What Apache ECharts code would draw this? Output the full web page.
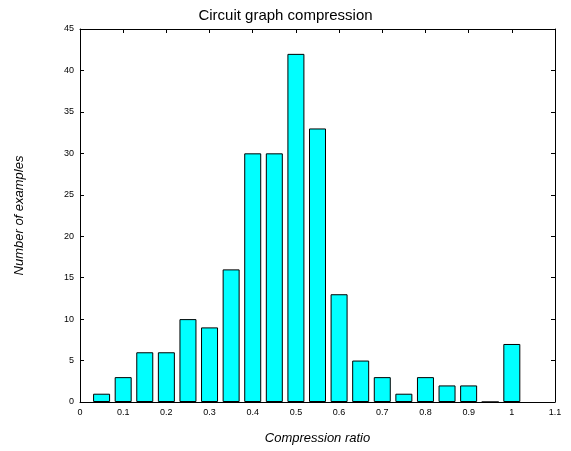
<!DOCTYPE html>
<html>
<head>
<meta charset="utf-8">
<script src="https://cdn.jsdelivr.net/npm/echarts@6/dist/echarts.min.js"></script>
<style>
  html, body { margin: 0; padding: 0; background: #fff; }
  #chart { width: 571px; height: 451px; }
</style>
</head>
<body>
<div id="chart"></div>
<script>
  // bin centres and counts
  const ratios = [0.05, 0.1, 0.15, 0.2, 0.25, 0.3, 0.35, 0.4, 0.45, 0.5,
                  0.55, 0.6, 0.65, 0.7, 0.75, 0.8, 0.85, 0.9, 0.95, 1.0]
  const counts = [1, 3, 6, 6, 10, 9, 16, 30, 30, 42,
                  33, 13, 5, 3, 1, 3, 2, 2, 0, 7]

  const font = 'Liberation Sans, Arial, sans-serif'
  const fmt = v => String(parseFloat(v.toFixed(2)))

  const chart = echarts.init(document.getElementById('chart'))

  const xBase = {
    type: 'value', min: 0, max: 1.1, interval: 0.1,
    splitLine: { show: false },
    axisLine: { show: true, onZero: false, lineStyle: { color: '#000', width: 1 } },
    axisTick: { show: true, inside: true, length: 4, lineStyle: { color: '#000' } }
  }
  const yBase = {
    type: 'value', min: 0, max: 45, interval: 5,
    splitLine: { show: false },
    axisLine: { show: true, onZero: false, lineStyle: { color: '#000', width: 1 } },
    axisTick: { show: true, inside: true, length: 4, lineStyle: { color: '#000' } }
  }

  chart.setOption({
    animation: false,
    backgroundColor: '#fff',
    title: {
      text: 'Circuit graph compression',
      left: 'center',
      top: 3,
      textStyle: { fontFamily: font, fontSize: 15, fontWeight: 'normal', color: '#000' }
    },
    grid: { left: 80, right: 16, top: 29, bottom: 49 },
    xAxis: [
      Object.assign({}, xBase, {
        position: 'bottom',
        name: 'Compression ratio',
        nameLocation: 'middle',
        nameGap: 30,
        nameTextStyle: { fontFamily: font, fontSize: 13, fontStyle: 'italic', color: '#000' },
        axisLabel: { fontFamily: font, fontSize: 9, color: '#000', margin: 6, formatter: fmt }
      }),
      Object.assign({}, xBase, { position: 'top', axisLabel: { show: false } })
    ],
    yAxis: [
      Object.assign({}, yBase, {
        position: 'left',
        name: 'Number of examples',
        nameLocation: 'middle',
        nameGap: 54,
        nameTextStyle: { fontFamily: font, fontSize: 13, fontStyle: 'italic', color: '#000' },
        axisLabel: { fontFamily: font, fontSize: 9, color: '#000', margin: 6 }
      }),
      Object.assign({}, yBase, { position: 'right', axisLabel: { show: false } })
    ],
    series: [{
      type: 'bar',
      xAxisIndex: 0,
      yAxisIndex: 0,
      barWidth: 17,
      data: ratios.map((r, i) => [r, counts[i]]),
      itemStyle: { color: '#00ffff', borderColor: '#000', borderWidth: 1 }
    }]
  })
</script>
</body>
</html>
